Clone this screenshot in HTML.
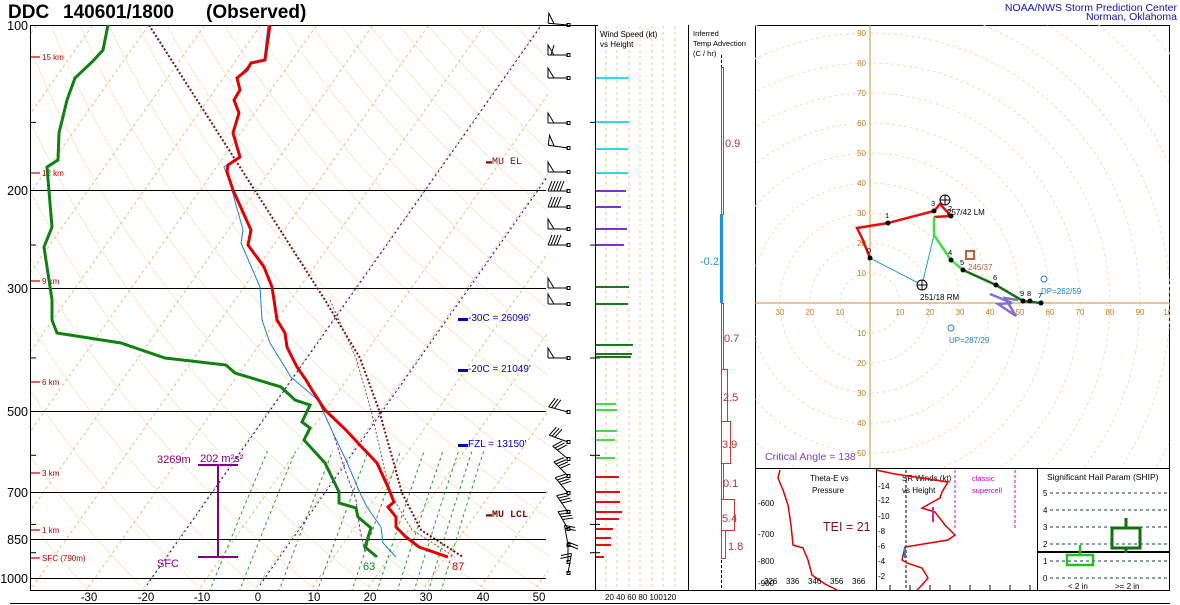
<!DOCTYPE html>
<html><head><meta charset="utf-8">
<style>
html,body{margin:0;padding:0;background:#fff;overflow:hidden;width:1180px;height:605px;}
svg{display:block;font-family:"Liberation Sans",sans-serif;}
</style></head>
<body>
<svg id="s" width="1180" height="605" viewBox="0 0 1180 605" xmlns="http://www.w3.org/2000/svg">
<defs>
<clipPath id="skc"><rect x="30" y="25" width="518" height="565"/></clipPath>
<clipPath id="hc"><rect x="755" y="25" width="415" height="443"/></clipPath>
</defs>
<rect width="1180" height="605" fill="#fff"/>
<g id="grid" clip-path="url(#skc)"></g>
<g stroke="#000" stroke-width="1">
<line x1="30" y1="190.5" x2="546" y2="190.5"/>
<line x1="30" y1="288.5" x2="546" y2="288.5"/>
<line x1="30" y1="411.5" x2="546" y2="411.5"/>
<line x1="30" y1="492.5" x2="546" y2="492.5"/>
<line x1="30" y1="539.5" x2="546" y2="539.5"/>
<line x1="30" y1="578.5" x2="546" y2="578.5"/>
<line x1="30" y1="25.5" x2="598" y2="25.5"/>
<line x1="30.5" y1="25" x2="30.5" y2="590"/>
<line x1="30" y1="590.5" x2="1170" y2="590.5"/>
<line x1="10" y1="603.5" x2="1170" y2="603.5"/>
<line x1="595.5" y1="25" x2="595.5" y2="590"/>
<line x1="688.5" y1="25" x2="688.5" y2="590"/>
<line x1="755.5" y1="25" x2="755.5" y2="590"/>
<line x1="755" y1="25.5" x2="1170" y2="25.5"/>
<line x1="1169.5" y1="25" x2="1169.5" y2="590"/>
<line x1="755" y1="468.5" x2="1170" y2="468.5"/>
<line x1="876.5" y1="468" x2="876.5" y2="590"/>
<line x1="1037.5" y1="468" x2="1037.5" y2="590"/>
</g>
<g id="pt" stroke="#000"></g>
<g font-size="19" font-weight="bold">
<text x="8" y="18">DDC</text><text x="63" y="18">140601/1800</text><text x="206" y="18">(Observed)</text>
</g>
<text x="1177" y="11" font-size="10.5" fill="#1010c0" text-anchor="end">NOAA/NWS Storm Prediction Center</text>
<text x="1177" y="20" font-size="10.5" fill="#1010c0" text-anchor="end">Norman, Oklahoma</text>
<g font-size="12.5" text-anchor="end">
<text x="28" y="30">100</text><text x="28" y="195">200</text><text x="28" y="293">300</text>
<text x="28" y="416">500</text><text x="28" y="497">700</text><text x="28" y="544">850</text><text x="28" y="583">1000</text>
</g>
<g font-size="11.5" text-anchor="middle">
<text x="89" y="601">-30</text><text x="146" y="601">-20</text><text x="202" y="601">-10</text><text x="258" y="601">0</text>
<text x="314" y="601">10</text><text x="370" y="601">20</text><text x="426" y="601">30</text><text x="483" y="601">40</text><text x="539" y="601">50</text>
</g>
<g fill="#c00000" font-size="8" stroke="none">
<text x="42" y="60">15 km</text><text x="42" y="176">12 km</text><text x="42" y="284">9 km</text>
<text x="42" y="385">6 km</text><text x="42" y="476">3 km</text><text x="42" y="533">1 km</text><text x="42" y="561">SFC (790m)</text>
</g>
<g stroke="#c00000" stroke-width="1.2">
<line x1="31" y1="57" x2="40" y2="57"/><line x1="31" y1="173" x2="40" y2="173"/><line x1="31" y1="281" x2="40" y2="281"/>
<line x1="31" y1="382" x2="40" y2="382"/><line x1="31" y1="473" x2="40" y2="473"/><line x1="31" y1="530" x2="40" y2="530"/><line x1="31" y1="558" x2="40" y2="558"/>
</g>
<g stroke="#0000c0" stroke-width="1" stroke-dasharray="2,3" clip-path="url(#skc)">
<line x1="147" y1="585" x2="548" y2="16"/>
<line x1="260" y1="585" x2="548" y2="176"/>
</g>
<g clip-path="url(#skc)" fill="none">
<polyline stroke="#7a1010" stroke-width="2" stroke-dasharray="2,2" points="149,25 325,300 360,358 379,410 402,493 421,530 463,557"/>
<polyline stroke="#b04030" stroke-width="1" stroke-dasharray="2,2" points="330,300 356,358 371,410 390,493 412,530 455,557"/>
<polyline stroke="#8030a0" stroke-width="1" stroke-dasharray="3,2" points="333,433 345,470 356,500 360,530 365,552"/>
<polyline stroke="#1a80d0" stroke-width="1" points="268,25 264,60 250,64 237,78 240,90 234,100 239,113 233,133 240,157 224,167 230,183 243,230 241,243 260,287 262,320 270,343 291,377 318,400 333,433 346,460 360,493 367,507 381,527 383,543 396,557"/>
<polyline stroke="#e00000" stroke-width="3" points="270,25 265,60 251,63 247,70 237,78 240,90 234,100 239,113 233,133 240,157 228,165 227,172 233,190 251,230 248,245 264,267 272,287 274,300 277,320 285,333 287,347 297,367 306,380 312,390 325,410 346,430 358,443 377,463 388,487 394,502 388,507 396,517 396,527 406,537 419,547 448,557"/>
<polyline stroke="#108010" stroke-width="3" points="108,25 103,50 92,62 75,78 67,100 59,133 58,160 47,167 52,227 44,247 52,300 52,320 57,333 121,343 165,358 226,365 235,373 281,387 295,400 310,405 302,422 310,428 304,440 325,463 339,492 339,503 356,508 358,517 371,528 365,547 377,557"/>
</g>
<g font-size="10">
<text x="486" y="164" fill="#7a1010" font-family="Liberation Mono,monospace">▬MU EL</text>
<text x="486" y="517" fill="#7a1010" font-family="Liberation Mono,monospace" font-weight="bold">▬MU LCL</text>
<text x="458" y="321" fill="#0000c0">▬-30C = 26096'</text>
<text x="458" y="372" fill="#0000c0">▬-20C = 21049'</text>
<text x="458" y="447" fill="#0000c0">▬FZL = 13150'</text>
</g>
<g fill="#800080" font-size="11">
<text x="157" y="463">3269m</text><text x="200" y="462">202 m²s²</text><text x="157" y="567">SFC</text>
</g>
<g stroke="#800080" stroke-width="2"><line x1="218" y1="465" x2="218" y2="557"/><line x1="198" y1="465" x2="238" y2="465"/><line x1="198" y1="557" x2="238" y2="557"/></g>
<text x="363" y="570" fill="#108010" font-size="11">63</text>
<text x="452" y="570" fill="#e00000" font-size="11">87</text>
<g id="barbs" stroke="#000" stroke-width="1" fill="none"></g>

<g stroke="#f0c8a0" stroke-dasharray="3,3"><line x1="606" y1="26" x2="606" y2="590"/><line x1="617" y1="26" x2="617" y2="590"/><line x1="629" y1="26" x2="629" y2="590"/><line x1="640" y1="26" x2="640" y2="590"/><line x1="652" y1="26" x2="652" y2="590"/><line x1="663" y1="26" x2="663" y2="590"/><line x1="675" y1="26" x2="675" y2="590"/></g>
<text x="600" y="37" font-size="8">Wind Speed (kt)</text><text x="600" y="47" font-size="8">vs Height</text>
<text x="605" y="600" font-size="8">20 40 60 80 100120</text>
<g id="wsb" stroke-width="2"></g>

<text x="693" y="36" font-size="7.5">Inferred</text><text x="693" y="46" font-size="7.5">Temp Advection</text><text x="693" y="56" font-size="7.5">(C / hr)</text>
<line x1="721.5" y1="55" x2="721.5" y2="590" stroke="#000" stroke-dasharray="3,2"/>
<g fill="none" stroke="#e03030"><rect x="721.5" y="67.5" width="2" height="147"/><rect x="721.5" y="303.5" width="2" height="66"/><rect x="721.5" y="369.5" width="6" height="52"/><rect x="721.5" y="421.5" width="9" height="42"/><rect x="721.5" y="463.5" width="2" height="36"/><rect x="721.5" y="499.5" width="13" height="31"/><rect x="721.5" y="530.5" width="4" height="28"/></g>
<rect x="720" y="214" width="3" height="89" fill="#2090e0"/>
<g fill="#c03030" font-size="11"><text x="725" y="147">0.9</text><text x="724" y="342">0.7</text><text x="723" y="401">2.5</text><text x="722" y="448">3.9</text><text x="723" y="487">0.1</text><text x="722" y="522">5.4</text><text x="728" y="550">1.8</text></g>
<text x="700" y="265" fill="#2090d0" font-size="11">-0.2</text>

<g id="hodo" clip-path="url(#hc)"></g>

<g font-size="8">
<text x="810" y="481">Theta-E vs</text><text x="812" y="493">Pressure</text>
<text x="902" y="481">SR Winds (kt)</text><text x="902" y="493">vs Height</text>
<text x="1047" y="480" font-size="8.5">Significant Hail Param (SHIP)</text>
</g>
<text x="823" y="531" fill="#8b1010" font-size="12.5">TEI = 21</text>
<g font-size="7.5" fill="#c000c0"><text x="972" y="481">classic</text><text x="972" y="493">supercell</text></g>
<polyline fill="none" stroke="#e00000" stroke-width="1.5" points="780,470 778,478 783,490 788,505 791,525 793,545 803,548 808,560 812,575 825,584 837,590"/>
<g font-size="8"><text x="758" y="506">-600</text><text x="758" y="537">-700</text><text x="758" y="564">-800</text><text x="758" y="586">-900</text>
<text x="764" y="584">326</text><text x="786" y="584">336</text><text x="808" y="584">346</text><text x="830" y="584">356</text><text x="852" y="584">366</text></g>
<g font-size="8"><text x="878" y="489">-14</text><text x="878" y="503">-12</text><text x="878" y="519">-10</text><text x="878" y="534">-8</text><text x="878" y="549">-6</text><text x="878" y="564">-4</text><text x="878" y="579">-2</text></g>
<line x1="906" y1="470" x2="906" y2="590" stroke="#000" stroke-dasharray="3,2"/>
<g stroke="#d000d0" stroke-dasharray="3,2"><line x1="955" y1="470" x2="955" y2="530"/><line x1="1015" y1="470" x2="1015" y2="530"/></g>
<polyline fill="none" stroke="#e00000" stroke-width="1.5" points="876,470 895,474 948,482 942,492 940,498 922,508 935,512 945,525 955,535 948,540 905,547 902,560 907,563 922,568 928,578 922,585 917,590"/>
<line x1="905" y1="548" x2="905" y2="558" stroke="#2080e0" stroke-width="2"/>
<line x1="933" y1="507" x2="933" y2="522" stroke="#e020a0" stroke-width="2"/>
<g stroke="#000"><line x1="890" y1="585" x2="890" y2="590"/><line x1="910" y1="585" x2="910" y2="590"/><line x1="930" y1="585" x2="930" y2="590"/><line x1="950" y1="585" x2="950" y2="590"/><line x1="970" y1="585" x2="970" y2="590"/><line x1="990" y1="585" x2="990" y2="590"/><line x1="1010" y1="585" x2="1010" y2="590"/><line x1="1030" y1="585" x2="1030" y2="590"/></g>
<g stroke="#1a3a5a" stroke-dasharray="3,3"><line x1="1050" y1="493" x2="1168" y2="493"/><line x1="1050" y1="510" x2="1168" y2="510"/><line x1="1050" y1="527" x2="1168" y2="527"/><line x1="1050" y1="544" x2="1168" y2="544"/><line x1="1050" y1="561" x2="1168" y2="561"/><line x1="1050" y1="578" x2="1168" y2="578"/></g>
<g font-size="8"><text x="1043" y="496">5</text><text x="1043" y="513">4</text><text x="1043" y="530">3</text><text x="1043" y="547">2</text><text x="1043" y="564">1</text><text x="1043" y="581">0</text>
<text x="1068" y="589">&lt; 2 in</text><text x="1115" y="589">&gt;= 2 in</text></g>
<line x1="1038" y1="552" x2="1170" y2="552" stroke="#000" stroke-width="2"/>
<g fill="none" stroke="#20c020" stroke-width="2.5"><rect x="1067" y="555" width="26" height="10"/><line x1="1080" y1="545" x2="1080" y2="555"/></g>
<g fill="none" stroke="#107010" stroke-width="3"><rect x="1112" y="528" width="28" height="20"/><line x1="1126" y1="518" x2="1126" y2="528"/><line x1="1126" y1="548" x2="1126" y2="553"/></g>
</svg>
<script>
(function(){
var NS="http://www.w3.org/2000/svg";
function el(p,t,a){var e=document.createElementNS(NS,t);for(var k in a)e.setAttribute(k,a[k]);p.appendChild(e);return e;}
function Y(p){return 25+553*Math.log10(p/100);}
function X(T,p){return 258+5.6*T+0.705*(585-Y(p));}
var g=document.getElementById('grid');
for(var th=240;th<=480;th+=10){
 var pts=[];
 for(var p=1060;p>=95;p-=10){var T=th*Math.pow(p/1000,0.286)-273.15;pts.push(X(T,p).toFixed(1)+','+Y(p).toFixed(1));}
 el(g,'polyline',{points:pts.join(' '),fill:'none',stroke:'#fbe6d0','stroke-width':1});
}
for(var T=-120;T<=50;T+=10){
 el(g,'line',{x1:X(T,1060),y1:Y(1060),x2:X(T,95),y2:Y(95),stroke:'#f0b880','stroke-width':1,'stroke-dasharray':'3,3'});
}
var ws=[2,3,5,8,12,16,20,24,28,32];
ws.forEach(function(w){
 var pts=[];
 for(var p=1060;p>=590;p-=10){var e=w*p/(622+w);var l=Math.log(e/6.112);var T=243.5*l/(17.67-l);pts.push(X(T,p).toFixed(1)+','+Y(p).toFixed(1));}
 el(g,'polyline',{points:pts.join(' '),fill:'none',stroke:'#20a020','stroke-width':1,'stroke-dasharray':'3,3'});
});
var pt=document.getElementById('pt');
[150,250,400,600,800,900].forEach(function(p){var y=Y(p);el(pt,'line',{x1:30,y1:y,x2:36,y2:y});el(pt,'line',{x1:590,y1:y,x2:600,y2:y});});
var b=document.getElementById('barbs');
var bd=[[25,5,'p'],[55,0,'pf'],[78,0,'p'],[123,0,'p'],[148,8,'p'],[172,0,'p'],[191,0,'bbbbb'],[207,0,'bbbb'],[229,0,'p'],[245,0,'bbbb'],[288,0,'p'],[304,0,'p'],[358,0,'p'],[412,15,'bbb'],[442,20,'bbb'],[459,40,'bbb'],[476,45,'bbbb'],[493,50,'bbbb'],[512,55,'bbbb'],[529,60,'bbbb'],[545,80,'bb'],[562,90,'bb'],[573,100,'bb']];
bd.forEach(function(d){
 var y=d[0],a=d[1]*Math.PI/180,L=20;var x0=568;
 var dx=-Math.cos(a),dy=-Math.sin(a);
 var x1=x0+dx*L,y1=y+dy*L;
 el(b,'line',{x1:x0,y1:y,x2:x1,y2:y1});
 el(b,'rect',{x:x0-1,y:y-1.5,width:3,height:3});
 var px=-dy,py=dx;
 if(py>0){px=-px;py=-py;}
 var s=d[2];
 for(var i=0;i<s.length;i++){
  var bx=x1-dx*i*3,by=y1-dy*i*3;
  if(s[i]=='p'){el(b,'polyline',{points:bx+','+by+' '+(bx+px*10)+','+(by+py*10)+' '+(bx-dx*6)+','+(by-dy*6)});}
  else if(s[i]=='f'){el(b,'line',{x1:bx,y1:by,x2:bx+px*10-dx*3,y2:by+py*10-dy*3});}
  else{el(b,'line',{x1:bx,y1:by,x2:bx+px*10-dx*4,y2:by+py*10-dy*4});}
 }
});
var w=document.getElementById('wsb');
var bars=[[78,629,'#30d8e8'],[122,629,'#30d8e8'],[149,628,'#30d8e8'],[173,628,'#30d8e8'],[191,626,'#8030d0'],[207,621,'#8030d0'],[229,627,'#8030d0'],[245,624,'#8030d0'],[287,629,'#1a7a1a'],[304,628,'#1a7a1a'],[345,633,'#1a7a1a'],[354,632,'#1a7a1a'],[357,631,'#1a7a1a'],[404,616,'#40e040'],[410,617,'#40e040'],[431,617,'#40e040'],[440,615,'#40e040'],[458,615,'#40e040'],[477,619,'#e01010'],[492,620,'#e01010'],[502,620,'#e01010'],[512,622,'#e01010'],[519,619,'#e01010'],[529,613,'#e01010'],[538,611,'#e01010'],[545,611,'#e01010'],[557,604,'#e01010']];
bars.forEach(function(r){el(w,'line',{x1:596,y1:r[0],x2:r[1],y2:r[0],stroke:r[2]});});
var h=document.getElementById('hodo');var cx=870,cy=303,s=3.0;
for(var r=10;r<=140;r+=10)el(h,'circle',{cx:cx,cy:cy,r:r*s,fill:'none',stroke:'#f8dcc0','stroke-dasharray':'3,3'});
el(h,'line',{x1:cx,y1:25,x2:cx,y2:468,stroke:'#d09030'});
el(h,'line',{x1:755,y1:cy,x2:1170,y2:cy,stroke:'#d09030'});
for(var v=-50;v<=90;v+=10){if(v==0)continue;var t=el(h,'text',{x:cx-4,y:cy-v*s+3,'font-size':8,fill:'#c08020','text-anchor':'end'});t.textContent=Math.abs(v);}
for(var u=-30;u<=100;u+=10){if(u==0)continue;var t=el(h,'text',{x:cx+u*s,y:cy+12,'font-size':8,fill:'#c08020','text-anchor':'middle'});t.textContent=Math.abs(u);}
el(h,'polyline',{points:'870,258 922,285 934,235',fill:'none',stroke:'#20a0d0'});
el(h,'polyline',{points:'870,258 862,238 857,228 888,223 934,211 940,204 951,216 934,217',fill:'none',stroke:'#e01010','stroke-width':2.5});
el(h,'polyline',{points:'934,217 934,235 951,260 963,270',fill:'none',stroke:'#40e040','stroke-width':2.5});
el(h,'polyline',{points:'963,270 996,285 1023,301 1041,303',fill:'none',stroke:'#107010','stroke-width':2.5});
el(h,'polyline',{points:'990,294 1012,303 998,304 1016,316 1005,298 1018,300',fill:'none',stroke:'#8070d0','stroke-width':2.5});
[[870,258,'0'],[888,223,'1'],[934,211,'3'],[951,216,'2'],[951,260,'4'],[963,270,'5'],[996,285,'6'],[1041,303,'7'],[1030,301,'8'],[1023,301,'9']].forEach(function(p){el(h,'circle',{cx:p[0],cy:p[1],r:2.5,fill:'#000'});var t=el(h,'text',{x:p[0]-3,y:p[1]-5,'font-size':7.5});t.textContent=p[2];});
[[922,285],[945,200]].forEach(function(p){el(h,'circle',{cx:p[0],cy:p[1],r:5,fill:'#fff',stroke:'#000'});el(h,'line',{x1:p[0]-5,y1:p[1],x2:p[0]+5,y2:p[1],stroke:'#000'});el(h,'line',{x1:p[0],y1:p[1]-5,x2:p[0],y2:p[1]+5,stroke:'#000'});});
el(h,'rect',{x:966,y:251,width:8,height:8,fill:'none',stroke:'#c06030','stroke-width':2});
el(h,'circle',{cx:1044,cy:279,r:3,fill:'none',stroke:'#2080d0'});
el(h,'circle',{cx:951,cy:328,r:3,fill:'none',stroke:'#2080d0'});
function tx(x,y,s,c,f){var t=el(h,'text',{x:x,y:y,'font-size':f||8,fill:c});t.textContent=s;}
tx(920,300,'251/18 RM','#000');tx(947,215,'257/42 LM','#000');tx(968,270,'245/37','#c06030');tx(1041,294,'DP=262/59','#2080d0');tx(949,343,'UP=287/29','#2080d0');
tx(765,460,'Critical Angle = 138','#8040c0',10.5);
})();
</script>
</body></html>
